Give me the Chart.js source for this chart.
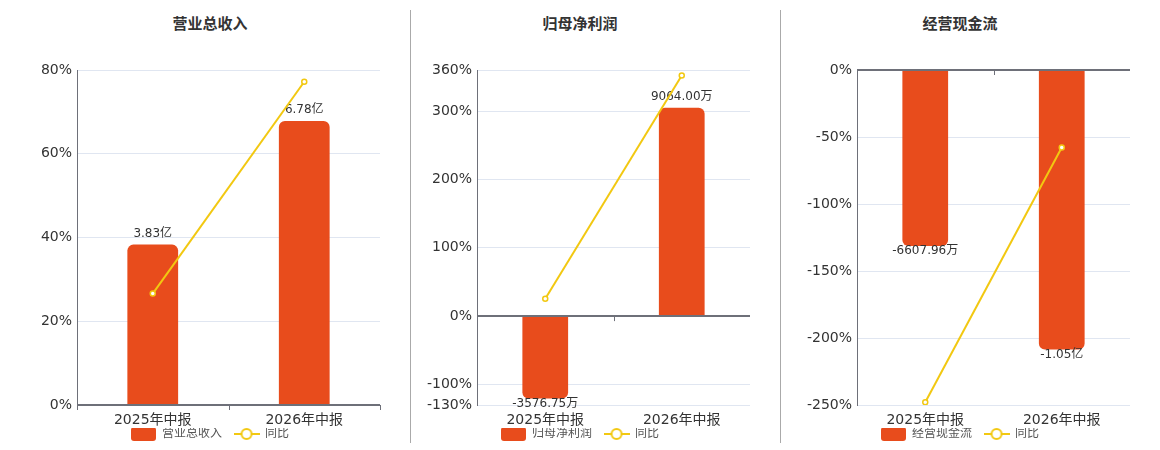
<!DOCTYPE html>
<html lang="zh">
<head>
  <meta charset="UTF-8">
  <title>营业总收入 / 归母净利润 / 经营现金流</title>
  <style>
    body { margin: 0; background: #fff; }
    #wrap { position: relative; width: 1160px; height: 450px; overflow: hidden; }
    .panel { position: absolute; top: 0; height: 450px; }
    .title {
      position: absolute; top: 12px; width: 300px; margin-left: -150px;
      text-align: center; font: bold 15px "DejaVu Sans", "Noto Sans CJK SC", sans-serif; color: #333;
    }
    .sep { position: absolute; top: 10px; height: 433px; width: 1px; background: #aaa; }
  </style>
  <script src="https://cdn.jsdelivr.net/npm/chart.js"></script>
</head>
<body>
<div id="wrap">
  <div class="title" style="left:210px">营业总收入</div>
  <div class="title" style="left:580px">归母净利润</div>
  <div class="title" style="left:960px">经营现金流</div>
  <div class="sep" style="left:410px"></div>
  <div class="sep" style="left:780px"></div>
  <div class="panel" style="left:0px;width:420px"><canvas id="revenueChart"></canvas></div>
  <div class="panel" style="left:410px;width:340px"><canvas id="profitChart"></canvas></div>
  <div class="panel" style="left:790px;width:340px"><canvas id="cashChart"></canvas></div>
</div>

<script>
  const periods = ['2025年中报', '2026年中报'];

  // 营业总收入 (亿)
  const revenueValues = [3.83, 6.78];
  const revenueLabels = ['3.83亿', '6.78亿'];
  const revenueYoy = [26.6, 77.2];
  const revenueTicks = [0, 20, 40, 60, 80];

  // 归母净利润 (万)
  const profitValues = [-3576.75, 9064.00];
  const profitLabels = ['-3576.75万', '9064.00万'];
  const profitYoy = [25.4, 352];
  const profitTicks = [-130, -100, 0, 100, 200, 300, 360];

  // 经营现金流 (万)
  const cashValues = [-6607.96, -10500];
  const cashLabels = ['-6607.96万', '-1.05亿'];
  const cashYoy = [-248, -57.9];
  const cashTicks = [-250, -200, -150, -100, -50, 0];

  const FONT = '"DejaVu Sans", "Noto Sans CJK SC", sans-serif';
  const BAR_COLOR = '#e84c1c';
  const LINE_COLOR = '#f2c811';
  const AXIS_COLOR = '#6e7079';

  // legend swatches
  function barSwatch() {
    const c = document.createElement('canvas');
    c.width = 25; c.height = 14;
    const g = c.getContext('2d');
    g.fillStyle = BAR_COLOR;
    g.beginPath();
    g.roundRect(0, 0, 25, 14, 3);
    g.fill();
    return c;
  }
  function lineSwatch() {
    const c = document.createElement('canvas');
    c.width = 26; c.height = 14;
    const g = c.getContext('2d');
    g.strokeStyle = LINE_COLOR;
    g.lineWidth = 2;
    g.beginPath(); g.moveTo(0, 7); g.lineTo(26, 7); g.stroke();
    g.fillStyle = '#fff';
    g.beginPath(); g.arc(13, 7, 5, 0, Math.PI * 2); g.fill(); g.stroke();
    return c;
  }

  // value labels on bars, drawn before the line
  const barLabelPlugin = {
    id: 'barLabels',
    afterDatasetDraw(chart, args) {
      if (args.index !== 0) return;
      const texts = chart.options.plugins.barLabels.texts;
      const ctx = chart.ctx;
      ctx.save();
      ctx.font = '12px ' + FONT;
      ctx.fillStyle = '#333';
      ctx.textAlign = 'center';
      ctx.textBaseline = 'middle';
      args.meta.data.forEach((bar, i) => {
        const neg = chart.data.datasets[0].data[i] < 0;
        ctx.fillText(texts[i], bar.x, neg ? bar.y + 5 : bar.y - 11);
      });
      ctx.restore();
    }
  };

  // zero axis line with category ticks
  const zeroAxisPlugin = {
    id: 'zeroAxis',
    afterDatasetDraw(chart, args) {
      if (args.index !== 0) return;
      const x = chart.scales.x, y = chart.scales.y, area = chart.chartArea;
      const y0 = y.getPixelForValue(0);
      const ctx = chart.ctx;
      ctx.save();
      ctx.strokeStyle = AXIS_COLOR;
      ctx.lineWidth = 2;
      ctx.beginPath();
      ctx.moveTo(area.left, y0); ctx.lineTo(area.right, y0);
      ctx.stroke();
      ctx.lineWidth = 1;
      const half = (x.getPixelForValue(1) - x.getPixelForValue(0)) / 2;
      const marks = [x.getPixelForValue(0) - half];
      periods.forEach((p, i) => marks.push(x.getPixelForValue(i) + half));
      ctx.beginPath();
      marks.forEach(m => { ctx.moveTo(Math.round(m) + 0.5, y0); ctx.lineTo(Math.round(m) + 0.5, y0 + 5); });
      ctx.stroke();
      ctx.restore();
    }
  };

  function makeChart(id, name, values, labels, yoy, ticks, barMin, barMax, axisWidth, rightSpace) {
    return new Chart(document.getElementById(id), {
      data: {
        labels: periods,
        datasets: [{
          type: 'bar',
          label: name,
          data: values,
          yAxisID: 'yBar',
          backgroundColor: BAR_COLOR,
          borderRadius: 6,
          borderSkipped: 'start',
          categoryPercentage: 1,
          barPercentage: 0.335,
          order: 2
        }, {
          type: 'line',
          label: '同比',
          data: yoy,
          yAxisID: 'y',
          borderColor: LINE_COLOR,
          borderWidth: 2,
          pointRadius: 2.5,
          pointBorderWidth: 1.5,
          pointBackgroundColor: '#fff',
          pointBorderColor: LINE_COLOR,
          order: 1
        }]
      },
      options: {
        responsive: true,
        maintainAspectRatio: false,
        animation: false,
        layout: { autoPadding: false, padding: { top: 70, right: 0, left: 0, bottom: 0 } },
        scales: {
          x: {
            grid: { display: false, drawTicks: false },
            border: { display: false },
            ticks: { color: '#333', font: { size: 14, family: FONT }, padding: 7 },
            afterFit(scale) { scale.height = 23; }
          },
          y: {
            position: 'left',
            min: ticks[0],
            max: ticks[ticks.length - 1],
            afterBuildTicks(scale) { scale.ticks = ticks.map(v => ({ value: v })); },
            afterFit(scale) { scale.width = axisWidth; },
            grid: { color: '#e0e6f1', drawTicks: false },
            border: { color: AXIS_COLOR, width: 1 },
            ticks: {
              color: '#333',
              font: { size: 14, family: FONT },
              padding: 5,
              callback: v => v + '%'
            }
          },
          // bar values axis, kept invisible; only reserves space on the right
          yBar: {
            position: 'right',
            min: barMin,
            max: barMax,
            grid: { display: false },
            border: { display: false },
            ticks: { display: false },
            afterFit(scale) { scale.width = rightSpace; }
          }
        },
        plugins: {
          legend: {
            position: 'bottom',
            labels: {
              usePointStyle: true,
              pointStyleWidth: 25,
              color: '#555',
              font: { size: 12, family: FONT },
              padding: 0,
              boxHeight: 14,
              generateLabels: chart => chart.data.datasets.map((ds, i) => ({
                text: i === 0 ? ds.label + '\u2002\u2002' : ds.label,
                pointStyle: i === 0 ? barSwatch() : lineSwatch(),
                fontColor: '#555',
                datasetIndex: i,
                hidden: false
              }))
            }
          },
          tooltip: { enabled: false },
          barLabels: { texts: labels }
        }
      },
      plugins: [barLabelPlugin, zeroAxisPlugin]
    });
  }

  makeChart('revenueChart', '营业总收入', revenueValues, revenueLabels, revenueYoy, revenueTicks, 0, 8, 77, 40);
  makeChart('profitChart', '归母净利润', profitValues, profitLabels, profitYoy, profitTicks, -3863, 10700, 67, 0);
  makeChart('cashChart', '经营现金流', cashValues, cashLabels, cashYoy, cashTicks, -12582, 0, 67, 0);
</script>
</body>
</html>
